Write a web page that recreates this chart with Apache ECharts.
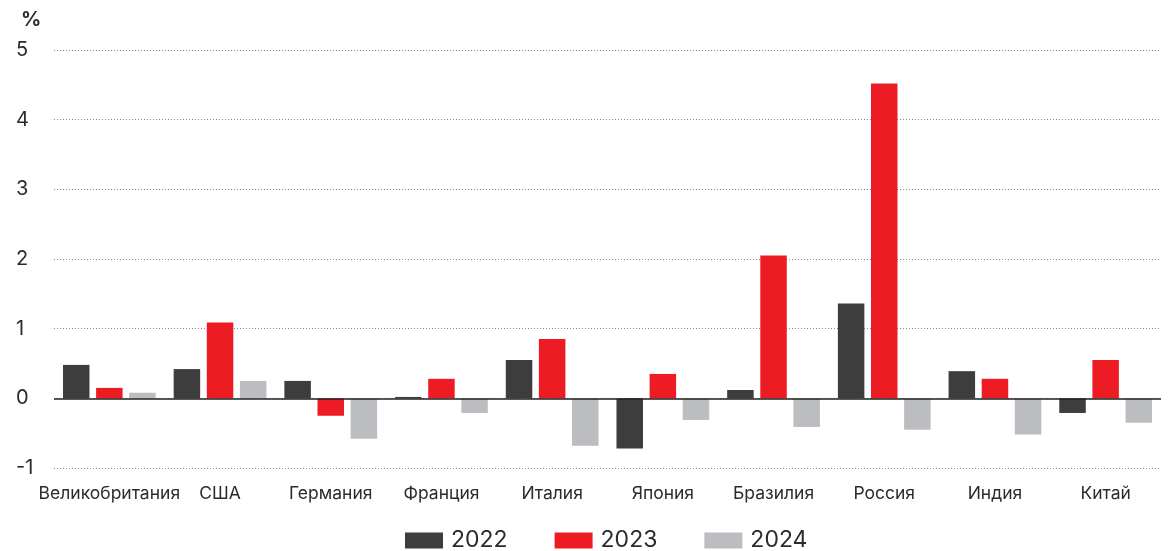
<!DOCTYPE html>
<html>
<head>
<meta charset="utf-8">
<style>
  html, body { margin: 0; padding: 0; background: #fff; }
  #chart { width: 1168px; height: 551px; }
</style>
<script src="https://cdn.jsdelivr.net/npm/echarts@6/dist/echarts.min.js"></script>
</head>
<body>
<div id="chart"></div>
<script>
const countries = ['Великобритания', 'США', 'Германия', 'Франция', 'Италия', 'Япония', 'Бразилия', 'Россия', 'Индия', 'Китай'];
const years = ['2022', '2023', '2024'];
const values2022 = [0.48, 0.42, 0.25, 0.02, 0.55, -0.72, 0.12, 1.36, 0.39, -0.21];
const values2023 = [0.15, 1.09, -0.25, 0.28, 0.85, 0.35, 2.05, 4.52, 0.28, 0.55];
const values2024 = [0.08, 0.25, -0.58, -0.21, -0.68, -0.31, -0.41, -0.45, -0.52, -0.35];
const yTicks = [-1, 0, 1, 2, 3, 4, 5];
const colors = ['#3d3d3d', '#ed1c24', '#bcbdc1'];

const FONT = 'Inter, Roboto, "Noto Sans", sans-serif';
const TEXT = '#2b2b2b';

const chart = echarts.init(document.getElementById('chart'));
const seriesValues = [values2022, values2023, values2024];

chart.setOption({
  animation: false,
  textStyle: { fontFamily: FONT },
  title: {
    text: '%',
    left: 16,
    top: 5,
    textStyle: { fontSize: 20, fontWeight: 'bold', color: TEXT, fontFamily: FONT }
  },
  legend: {
    data: years,
    top: 524,
    left: 400,
    itemWidth: 38,
    itemHeight: 16,
    itemGap: 47,
    icon: 'rect',
    textStyle: { fontSize: 23, color: TEXT, fontFamily: FONT, padding: [0, 0, 0, 3] }
  },
  grid: { left: 54, right: 7, top: 50, bottom: 83, containLabel: false, outerBoundsMode: 'none' },
  xAxis: {
    type: 'category',
    data: countries,
    axisLine: { show: false, onZero: false },
    axisTick: { show: false },
    axisLabel: {
      interval: 0,
      fontSize: 17.5,
      color: TEXT,
      fontFamily: FONT,
      margin: 17
    }
  },
  yAxis: {
    type: 'value',
    min: yTicks[0],
    max: yTicks[yTicks.length - 1],
    interval: 1,
    axisLine: { show: false },
    axisTick: { show: false },
    axisLabel: {
      fontSize: 20,
      color: TEXT,
      fontFamily: FONT,
      align: 'left',
      margin: 38
    },
    splitLine: {
      lineStyle: { color: '#8a8a8a', width: 1, type: [1, 2] }
    }
  },
  series: years.map((y, i) => ({
    name: y,
    type: 'bar',
    data: seriesValues[i],
    barWidth: 26.5,
    barGap: '25%',
    itemStyle: { color: colors[i] },
    markLine: i === 0 ? {
      silent: true,
      symbol: 'none',
      label: { show: false },
      lineStyle: { color: '#222', width: 1.5, type: 'solid' },
      data: [{ yAxis: 0 }]
    } : undefined,
    z: 2
  }))
});
</script>
</body>
</html>
